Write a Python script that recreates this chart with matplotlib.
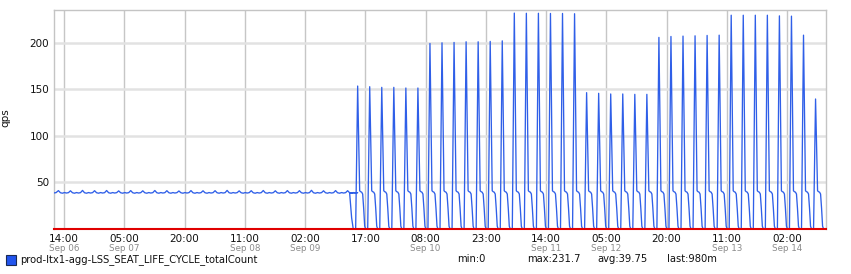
import matplotlib
matplotlib.use("Agg")
import matplotlib.pyplot as plt
import matplotlib.dates as mdates
from datetime import datetime, timedelta

# ---------------- data ----------------
t0 = datetime(2016, 9, 6, 14, 0)          # reference point: Sep 06 14:00
x_start_h = -2.5                          # left edge of the plot (hours from t0)
x_end_h = 189.7                           # right edge

# quiet period: small bump every 3 h, baseline ~38-39
flat_first_bump_h = -1.4
flat_bumps = [41.2, 41.0, 41.4, 41.1, 41.3, 40.9, 41.2, 41.0, 41.3, 41.1,
              40.8, 41.2, 41.0, 41.1, 41.4, 40.9, 41.1, 41.3, 41.0, 41.2,
              41.1, 41.5, 41.0, 41.2, 41.1]
flat_offsets = [0.0, 0.5, 1.0, 1.5, 2.0, 2.5]
flat_rest = [38.9, 38.4, 39.1, 38.6, 39.0]
lead_times = [-2.5, -2.0]
lead_vals = [38.7, 39.0]
drop_times = [71.1, 71.6, 72.0, 72.6]
drop_vals = [38.6, 12.0, 0.0, 0.0]

# busy period: one spike every 3 h
spike_first_h = 73.1
spike_period_h = 3.0
spike_peaks = [153.4, 152.7, 152.0, 152.0, 151.3, 151.3,
               199.1, 199.8, 200.2, 200.9, 200.9, 201.3, 201.9,
               231.7, 231.5, 231.5, 231.3, 231.3, 231.0,
               146.3, 145.6, 144.9, 144.9, 144.5, 144.5,
               205.6, 206.6, 207.0, 207.3, 207.7, 208.0,
               229.4, 229.4, 229.4, 229.4, 228.7, 228.4,
               208.0, 139.5]
cycle_offsets = [0.5, 0.75, 1.0, 1.25, 1.5, 1.75, 2.0, 2.25, 2.5]
cycle_values = [41.0, 40.0, 39.5, 37.5, 22.0, 3.0, 0.0, 0.0, 0.0]

tick_times = [datetime(2016, 9, 6, 14), datetime(2016, 9, 7, 5), datetime(2016, 9, 7, 20),
              datetime(2016, 9, 8, 11), datetime(2016, 9, 9, 2), datetime(2016, 9, 9, 17),
              datetime(2016, 9, 10, 8), datetime(2016, 9, 10, 23), datetime(2016, 9, 11, 14),
              datetime(2016, 9, 12, 5), datetime(2016, 9, 12, 20), datetime(2016, 9, 13, 11),
              datetime(2016, 9, 14, 2)]
tick_labels = ["14:00", "05:00", "20:00", "11:00", "02:00", "17:00", "08:00",
               "23:00", "14:00", "05:00", "20:00", "11:00", "02:00"]
date_labels = ["Sep 06", "Sep 07", "", "Sep 08", "Sep 09", "", "Sep 10",
               "", "Sep 11", "Sep 12", "", "Sep 13", "Sep 14"]
y_ticks = [50, 100, 150, 200]

series_name = "prod-ltx1-agg-LSS_SEAT_LIFE_CYCLE_totalCount"
stats = ["min:0", "max:231.7", "avg:39.75", "last:980m"]

# ---------------- build the series ----------------
hours = list(lead_times)
vals = list(lead_vals)
for k, b in enumerate(flat_bumps):
    base = flat_first_bump_h + 3.0 * k
    hours.append(base)
    vals.append(b)
    for off, v in zip(flat_offsets[1:], flat_rest):
        hours.append(base + off)
        vals.append(v)
hours += drop_times
vals += drop_vals
for k, p in enumerate(spike_peaks):
    base = spike_first_h + spike_period_h * k
    hours.append(base)
    vals.append(p)
    for off, v in zip(cycle_offsets, cycle_values):
        if base + off <= x_end_h:
            hours.append(base + off)
            vals.append(v)

times = [t0 + timedelta(hours=h) for h in hours]

# ---------------- figure ----------------
W, H = 851, 274
fig = plt.figure(figsize=(W / 100, H / 100), dpi=100)
L, R, T, B = 54, 826, 10, 229
ax = fig.add_axes([L / W, 1 - B / H, (R - L) / W, (B - T) / H])

ax.set_xlim(t0 + timedelta(hours=x_start_h), t0 + timedelta(hours=x_end_h))
ax.set_ylim(0, 235)

for tt in tick_times:
    ax.axvline(tt, color="#c6c6c6", lw=1.0, zorder=1)
for yv in y_ticks:
    ax.axhline(yv, color="#e2e2e2", lw=1.8, zorder=1)

ax.plot(times, vals, color="#2f5fe8", lw=0.95, zorder=3, solid_joinstyle="round")

for side in ["left", "top", "right"]:
    ax.spines[side].set_color("#c4c4c4")
    ax.spines[side].set_linewidth(1.0)
ax.spines["bottom"].set_color("#e00000")
ax.spines["bottom"].set_linewidth(1.5)
ax.spines["bottom"].set_zorder(4)

ax.set_yticks(y_ticks)
ax.set_yticklabels([str(v) for v in y_ticks], fontsize=7.5, color="#111111")
ax.tick_params(axis="y", length=0, pad=3.4)
ax.set_xticks(tick_times)
ax.set_xticklabels([])
ax.tick_params(axis="x", length=0)

for tt, lab, dlab in zip(tick_times, tick_labels, date_labels):
    ax.annotate(lab, xy=(mdates.date2num(tt), 0), xycoords=("data", "axes fraction"),
                xytext=(0, -7.2), textcoords="offset points", ha="center", va="center",
                fontsize=7.5, color="#111111")
    if dlab:
        ax.annotate(dlab, xy=(mdates.date2num(tt), 0), xycoords=("data", "axes fraction"),
                    xytext=(0, -14.0), textcoords="offset points", ha="center", va="center",
                    fontsize=6.3, color="#8a8a8a")

fig.text(5 / W, 1 - 118 / H, "qps", rotation=90, ha="center", va="center",
         fontsize=7.5, color="#111111")

# legend row
sq = plt.Rectangle((5.5 / W, 1 - 265 / H), 10.5 / W, 10.5 / H, transform=fig.transFigure,
                   facecolor="#2255ee", edgecolor="#1a2a55", lw=0.8)
fig.patches.append(sq)
fig.text(20 / W, 1 - 259.5 / H, series_name, ha="left", va="center",
         fontsize=7.2, color="#111111")
for xs, s in zip([457, 527, 597, 667], stats):
    fig.text(xs / W, 1 - 259.5 / H, s, ha="left", va="center", fontsize=7.2, color="#111111")

fig.savefig("out.png", dpi=100, facecolor="white")
